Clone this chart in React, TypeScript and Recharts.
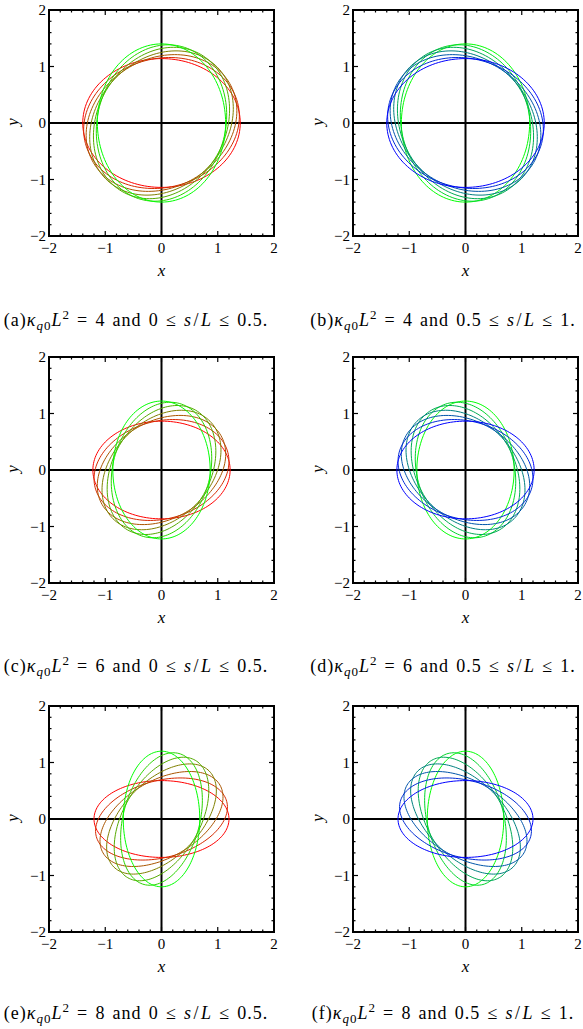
import React from 'react';
import { ScatterChart, Scatter, XAxis, YAxis, ReferenceLine, ReferenceArea } from 'recharts';

// ---- data ----
const panelLetters = ['a', 'b', 'c', 'd', 'e', 'f'];
const kappaValues = [4, 4, 6, 6, 8, 8];
const rangeLow = ['0', '0.5', '0', '0.5', '0', '0.5'];
const rangeHigh = ['0.5', '1', '0.5', '1', '0.5', '1'];
// semi-axes of the loop outline for each panel
const semiMajor = [1.4, 1.4, 1.22, 1.22, 1.2, 1.2];
const semiMinor = [1.14, 1.14, 0.865, 0.865, 0.68, 0.68];
// orientation (degrees) of each drawn loop
const firstHalfAngles = [0, 15, 30, 45, 60, 75, 90];
const secondHalfAngles = [90, 105, 120, 135, 150, 165, 180];
// colours: first half red -> green, second half green -> blue
const firstHalfColors = ['#ff0000', '#d52a00', '#aa5500', '#808000', '#55aa00', '#2ad500', '#00ff00'];
const secondHalfColors = ['#00ff00', '#00d52a', '#00aa55', '#008080', '#0055aa', '#002ad5', '#0000ff'];
const majorTicks = [-2, -1, 0, 1, 2];
const allTicks = [-2, -1.8, -1.6, -1.4, -1.2, -1, -0.8, -0.6, -0.4, -0.2, 0, 0.2, 0.4, 0.6, 0.8, 1, 1.2, 1.4, 1.6, 1.8, 2];
const tickLabels = ['−2', '−1', '0', '1', '2'];

// ---- layout ----
const CHART_W = 290;
const CHART_H = 286;
const PLOT_W = 225;
const PLOT_H = 226;
const COL_LEFT = [0, 304];
const ROW_TOP = [0, 347, 696];
const CAPTION_CX = [136, 443];
const CAPTION_CY = [320, 666, 1013];
const SERIF = "'Liberation Serif', 'DejaVu Serif', serif";
const N_POINTS = 144;

function loopPoints(a: number, b: number, deg: number) {
  const th = (deg * Math.PI) / 180;
  const c = Math.cos(th);
  const s = Math.sin(th);
  const pts: { x: number; y: number }[] = [];
  for (let i = 0; i <= N_POINTS; i++) {
    const t = (2 * Math.PI * i) / N_POINTS;
    const ex = a * Math.cos(t);
    const ey = b * Math.sin(t);
    pts.push({ x: ex * c - ey * s, y: ex * s + ey * c });
  }
  return pts;
}

const isMajor = (v: number) => Math.abs(v - Math.round(v)) < 1e-9;
const labelFor = (v: number) => tickLabels[majorTicks.indexOf(Math.round(v))];

const XTick = (props: any) => {
  const { x, y, payload } = props;
  const v = payload.value;
  const major = isMajor(v);
  const len = major ? 5 : 2.5;
  return (
    <g>
      <line x1={x} y1={y} x2={x} y2={y - len} stroke="#000" strokeWidth={1.2} />
      <line x1={x} y1={y - PLOT_H} x2={x} y2={y - PLOT_H + len} stroke="#000" strokeWidth={1.2} />
      {major && (
        <text x={x} y={y + 17} textAnchor="middle" fontSize={15} fontFamily={SERIF} fill="#000">
          {labelFor(v)}
        </text>
      )}
    </g>
  );
};

const YTick = (props: any) => {
  const { x, y, payload } = props;
  const v = payload.value;
  const major = isMajor(v);
  const len = major ? 5 : 2.5;
  return (
    <g>
      <line x1={x} y1={y} x2={x + len} y2={y} stroke="#000" strokeWidth={1.2} />
      <line x1={x + PLOT_W} y1={y} x2={x + PLOT_W - len} y2={y} stroke="#000" strokeWidth={1.2} />
      {major && (
        <text x={x - 3} y={y + 5} textAnchor="end" fontSize={15} fontFamily={SERIF} fill="#000">
          {labelFor(v)}
        </text>
      )}
    </g>
  );
};

const NoDot = () => <g />;

const Rel = ({ ch }: { ch: string }) => <span style={{ margin: '0 0.4em' }}>{ch}</span>;

function Panel({ index }: { index: number }) {
  const col = index % 2;
  const row = Math.floor(index / 2);
  const angles = col === 0 ? firstHalfAngles : secondHalfAngles;
  const colors = col === 0 ? firstHalfColors : secondHalfColors;
  const a = semiMajor[index];
  const b = semiMinor[index];
  const left = COL_LEFT[col];
  const top = ROW_TOP[row];
  return (
    <>
      <div style={{ position: 'absolute', left, top }}>
        <ScatterChart width={CHART_W} height={CHART_H} margin={{ top: 10, right: 16, bottom: 0, left: 0 }}>
          <XAxis
            type="number"
            dataKey="x"
            domain={[-2, 2]}
            ticks={allTicks}
            interval={0}
            tick={XTick}
            tickLine={false}
            axisLine={false}
            tickSize={0}
            tickMargin={0}
            height={50}
            allowDataOverflow
          />
          <YAxis
            type="number"
            dataKey="y"
            domain={[-2, 2]}
            ticks={allTicks}
            interval={0}
            tick={YTick}
            tickLine={false}
            axisLine={false}
            tickSize={0}
            tickMargin={0}
            width={49}
            allowDataOverflow
          />
          {angles.map((deg, k) => (
            <Scatter
              key={k}
              data={loopPoints(a, b, deg)}
              fill={colors[k]}
              line={{ stroke: colors[k], strokeWidth: 1 }}
              shape={NoDot}
              isAnimationActive={false}
            />
          ))}
          <ReferenceLine x={0} stroke="#000" strokeWidth={2} />
          <ReferenceLine y={0} stroke="#000" strokeWidth={2} />
          <ReferenceArea x1={-2} x2={2} y1={-2} y2={2} fill="none" fillOpacity={0} stroke="#000" strokeWidth={2} ifOverflow="visible" />
        </ScatterChart>
      </div>
      <div
        style={{
          position: 'absolute',
          left: left + 49 + PLOT_W / 2 - 20,
          top: top + 261,
          width: 40,
          textAlign: 'center',
          fontFamily: SERIF,
          fontStyle: 'italic',
          fontSize: 17,
          lineHeight: '20px',
        }}
      >
        x
      </div>
      <div
        style={{
          position: 'absolute',
          left: left + (col === 0 ? 13 : 14) - 20,
          top: top + 112,
          width: 40,
          textAlign: 'center',
          fontFamily: SERIF,
          fontStyle: 'italic',
          fontSize: 17,
          lineHeight: '20px',
          transform: 'rotate(-90deg)',
        }}
      >
        y
      </div>
      <div
        style={{
          position: 'absolute',
          left: CAPTION_CX[col] - 170,
          top: CAPTION_CY[row] - 12,
          width: 340,
          textAlign: 'center',
          fontFamily: SERIF,
          fontSize: 18,
          letterSpacing: '1px',
          lineHeight: '24px',
          whiteSpace: 'nowrap',
        }}
      >
        <span>({panelLetters[index]})</span>
        <i>κ</i>
        <span style={{ fontSize: 13, position: 'relative', top: 4 }}>
          <i>q</i>0
        </span>
        <i>L</i>
        <span style={{ fontSize: 13, position: 'relative', top: -7 }}>2</span>
        <Rel ch="=" />
        <span>{kappaValues[index]}</span>
        <span style={{ margin: '0 0.4em' }}>and</span>
        <span>{rangeLow[index]}</span>
        <Rel ch="≤" />
        <i>s</i>
        <span style={{ margin: '0 0.08em' }}>/</span>
        <i>L</i>
        <Rel ch="≤" />
        <span>{rangeHigh[index]}.</span>
      </div>
    </>
  );
}

export default function App() {
  return (
    <div style={{ position: 'absolute', left: 0, top: 0, width: 583, height: 1029, background: '#fff', overflow: 'hidden' }}>
      {panelLetters.map((_, i) => (
        <Panel key={i} index={i} />
      ))}
    </div>
  );
}
